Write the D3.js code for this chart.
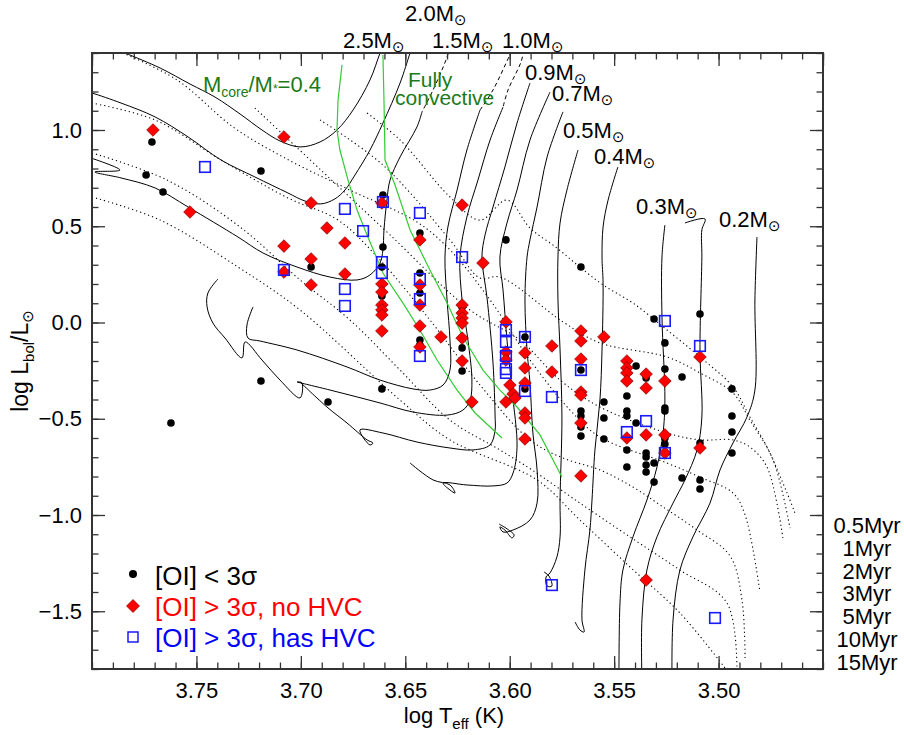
<!DOCTYPE html>
<html><head><meta charset="utf-8">
<script src="https://cdn.jsdelivr.net/npm/d3@7"></script>
<style>
body{margin:0;background:#fff}
svg text{font-family:"Liberation Sans",Arial,Helvetica,sans-serif}
</style>
</head><body>
<svg id="chart" width="904" height="735"></svg>
<script>
// Sources: [logTeff, logLbol/Lsun]
const lowSig = [[3.7713,0.938],[3.7741,0.766],[3.7660,0.678],[3.7191,0.787],[3.6951,0.288],[3.7622,-0.522],[3.7191,-0.304],[3.6870,-0.413],[3.6612,-0.345],[3.6607,0.662],[3.6607,0.392],[3.6612,0.288],[3.6612,0.138],[3.6430,0.465],[3.6430,0.257],[3.6430,0.153],[3.6430,-0.091],[3.6430,-0.117],[3.6228,0.081],[3.6228,-0.132],[3.6228,-0.252],[3.6018,0.429],[3.5927,-0.075],[3.5927,-0.345],[3.5659,0.288],[3.5659,-0.247],[3.5659,-0.460],[3.5659,-0.486],[3.5659,-0.543],[3.5659,-0.590],[3.5549,-0.413],[3.5549,-0.496],[3.5549,-0.605],[3.5439,-0.304],[3.5439,-0.382],[3.5439,-0.460],[3.5439,-0.486],[3.5439,-0.662],[3.5439,-0.751],[3.5395,-0.226],[3.5395,-0.522],[3.5347,-0.288],[3.5347,-0.678],[3.5347,-0.699],[3.5347,-0.740],[3.5347,-0.777],[3.5309,0.018],[3.5309,-0.730],[3.5309,-0.829],[3.5257,-0.106],[3.5257,-0.242],[3.5257,-0.444],[3.5257,-0.460],[3.5257,-0.600],[3.5257,-0.631],[3.5175,-0.283],[3.5175,-0.808],[3.5089,0.044],[3.5089,-0.626],[3.5089,-0.818],[3.5089,-0.865],[3.4936,-0.345],[3.4936,-0.486],[3.4936,-0.569],[3.4936,-0.678]];
const noHVC = [[3.7708,1.000],[3.7081,0.964],[3.7531,0.574],[3.6951,0.621],[3.6875,0.491],[3.7081,0.397],[3.6951,0.330],[3.6789,0.413],[3.6951,0.195],[3.6789,0.252],[3.7081,0.262],[3.6612,0.621],[3.6430,0.429],[3.6228,0.610],[3.6612,0.200],[3.6612,0.158],[3.6612,0.091],[3.6612,0.065],[3.6612,0.039],[3.6612,-0.044],[3.6430,0.195],[3.6430,0.091],[3.6430,-0.018],[3.6430,-0.127],[3.6329,-0.075],[3.6128,0.309],[3.6228,0.091],[3.6228,0.049],[3.6228,0.023],[3.6228,-0.003],[3.6228,-0.081],[3.6228,-0.200],[3.6181,-0.413],[3.6018,0.003],[3.6018,-0.153],[3.6018,-0.195],[3.5999,-0.325],[3.5984,-0.371],[3.5975,-0.392],[3.6018,-0.413],[3.5927,-0.158],[3.5927,-0.236],[3.5927,-0.314],[3.5927,-0.470],[3.5927,-0.496],[3.5927,-0.605],[3.5798,-0.122],[3.5798,-0.257],[3.5659,-0.044],[3.5659,-0.096],[3.5659,-0.190],[3.5659,-0.361],[3.5659,-0.377],[3.5659,-0.522],[3.5659,-0.797],[3.5549,-0.075],[3.5439,-0.200],[3.5439,-0.236],[3.5439,-0.262],[3.5439,-0.304],[3.5439,-0.600],[3.5347,-0.268],[3.5347,-0.340],[3.5347,-0.584],[3.5347,-1.338],[3.5257,-0.304],[3.5257,-0.584],[3.5257,-0.678],[3.5089,-0.179],[3.5089,-0.652]];
const hasHVC = [[3.7459,0.808],[3.7081,0.273],[3.6789,0.590],[3.6702,0.475],[3.6607,0.626],[3.6789,0.174],[3.6789,0.086],[3.6612,0.314],[3.6612,0.257],[3.6430,0.569],[3.6430,0.226],[3.6430,0.122],[3.6430,-0.174],[3.6228,0.340],[3.6018,-0.039],[3.6018,-0.101],[3.6018,-0.174],[3.6018,-0.242],[3.6018,-0.262],[3.5927,-0.075],[3.5927,-0.356],[3.5798,-0.387],[3.5798,-1.364],[3.5659,-0.247],[3.5439,-0.569],[3.5347,-0.512],[3.5257,0.008],[3.5257,-0.678],[3.5089,-0.122],[3.5017,-1.535]];

// Pre-main-sequence evolutionary tracks (early = initial segment drawn dashed)
const tracks = [
 {mass:2.5, early:[], main:[[3.7914,1.431],[3.7842,1.400],[3.7674,1.322],[3.7531,1.239],[3.7411,1.171],[3.7291,1.083],[3.7186,1.000],[3.7100,0.943],[3.7004,0.912],[3.6908,0.938],[3.6827,1.000],[3.6750,1.104],[3.6669,1.260],[3.6621,1.400],[3.6597,1.468]]},
 {mass:2.0, early:[], main:[[3.8057,1.208],[3.8000,1.192],[3.7861,1.140],[3.7698,1.068],[3.7540,0.964],[3.7382,0.844],[3.7220,0.756],[3.7062,0.673],[3.6980,0.631],[3.6904,0.616],[3.6837,0.642],[3.6789,0.688],[3.6741,0.766],[3.6669,0.896],[3.6607,1.036],[3.6525,1.244],[3.6477,1.400],[3.6463,1.442]]},
 {mass:1.5, early:[[3.6276,1.468],[3.6300,1.379],[3.6367,1.208],[3.6420,1.094]], main:[[3.6420,1.094],[3.6444,1.016],[3.6525,0.860],[3.6573,0.740],[3.6588,0.636],[3.6602,0.481],[3.6607,0.377],[3.6621,0.309],[3.6669,0.247],[3.6731,0.221],[3.6860,0.236],[3.7018,0.288],[3.7181,0.361],[3.7301,0.444],[3.7540,0.600],[3.7698,0.699],[3.7861,0.751],[3.7986,0.782],[3.7866,0.792],[3.8034,0.865]]},
 {mass:1.0, early:[[3.5975,1.442],[3.5999,1.390],[3.6080,1.208],[3.6142,1.104]], main:[[3.6142,1.104],[3.6205,0.896],[3.6252,0.688],[3.6296,0.496],[3.6310,0.340],[3.6300,0.117],[3.6286,-0.091],[3.6286,-0.247],[3.6319,-0.325],[3.6382,-0.351],[3.6463,-0.345],[3.6621,-0.299],[3.6779,-0.231],[3.7018,-0.143],[3.7196,-0.096],[3.7253,-0.081],[3.7258,-0.013],[3.7229,0.081]]},
 {mass:0.9, early:[[3.5932,1.416],[3.5946,1.353],[3.6008,1.208],[3.6032,1.119]], main:[[3.6032,1.119],[3.6094,0.948],[3.6152,0.740],[3.6205,0.548],[3.6238,0.340],[3.6228,0.117],[3.6200,-0.091],[3.6181,-0.299],[3.6190,-0.403],[3.6224,-0.455],[3.6300,-0.481],[3.6463,-0.465],[3.6621,-0.418],[3.6860,-0.351],[3.7018,-0.309],[3.6995,-0.314],[3.7004,-0.392],[3.7100,-0.299],[3.7186,-0.195],[3.7267,-0.101],[3.7282,-0.184],[3.7363,-0.081],[3.7421,-0.003],[3.7449,0.081],[3.7445,0.153],[3.7397,0.226]]},
 {mass:0.8, early:[], main:[[3.5903,1.244],[3.5965,1.036],[3.6023,0.808],[3.6080,0.600],[3.6118,0.455],[3.6133,0.340],[3.6109,0.132],[3.6080,-0.210],[3.6070,-0.491],[3.6070,-0.558],[3.6094,-0.636],[3.6176,-0.662],[3.6286,-0.652],[3.6444,-0.621],[3.6607,-0.574],[3.6717,-0.558],[3.6669,-0.636],[3.6655,-0.626],[3.6683,-0.610],[3.6779,-0.522],[3.6875,-0.439],[3.7004,-0.309]]},
 {mass:0.7, early:[], main:[[3.5807,1.197],[3.5903,0.948],[3.5965,0.688],[3.6013,0.517],[3.6047,0.340],[3.6032,0.169],[3.6013,-0.091],[3.5989,-0.351],[3.5965,-0.647],[3.5984,-0.782],[3.6013,-0.834],[3.6080,-0.849],[3.6205,-0.844],[3.6319,-0.834],[3.6286,-0.870],[3.6262,-0.886],[3.6286,-0.844],[3.6367,-0.818],[3.6477,-0.730]]},
 {mass:0.6, early:[], main:[[3.5745,1.094],[3.5821,0.860],[3.5869,0.600],[3.5903,0.429],[3.5917,0.340],[3.5927,0.117],[3.5917,-0.143],[3.5903,-0.314],[3.5889,-0.574],[3.5869,-0.766],[3.5869,-0.938],[3.5903,-1.026],[3.5984,-1.078],[3.6032,-1.088],[3.6047,-1.062],[3.6023,-1.078],[3.5989,-1.119],[3.5979,-1.104],[3.6018,-1.068],[3.6051,-1.047]]},
 {mass:0.5, early:[], main:[[3.5673,0.896],[3.5726,0.688],[3.5759,0.517],[3.5769,0.340],[3.5769,0.117],[3.5759,-0.143],[3.5750,-0.491],[3.5759,-0.922],[3.5759,-1.114],[3.5774,-1.218],[3.5807,-1.301],[3.5826,-1.322],[3.5821,-1.369],[3.5798,-1.369],[3.5812,-1.317],[3.5836,-1.296]]},
 {mass:0.4, early:[], main:[[3.5482,0.808],[3.5529,0.636],[3.5553,0.496],[3.5558,0.340],[3.5553,0.205],[3.5558,-0.143],[3.5568,-0.403],[3.5592,-0.662],[3.5606,-0.922],[3.5616,-1.078],[3.5640,-1.286],[3.5654,-1.545],[3.5644,-1.608],[3.5664,-1.597],[3.5687,-1.556]]},
 {mass:0.3, early:[], main:[[3.5257,0.506],[3.5271,0.340],[3.5271,0.029],[3.5257,-0.403],[3.5266,-0.574],[3.5295,-0.751],[3.5343,-0.922],[3.5410,-1.114],[3.5458,-1.286],[3.5472,-1.457],[3.5477,-1.857]]},
 {mass:0.25, early:[], main:[[3.5161,0.517],[3.5065,0.538],[3.5080,0.481],[3.5080,0.340],[3.5089,-0.143],[3.5080,-0.491],[3.5103,-0.662],[3.5161,-0.818],[3.5218,-0.938],[3.5295,-1.114],[3.5343,-1.286],[3.5367,-1.545],[3.5367,-1.857]]},
 {mass:0.2, early:[], main:[[3.4816,0.444],[3.4826,0.117],[3.4826,-0.351],[3.4864,-0.491],[3.4931,-0.626],[3.4993,-0.766],[3.5041,-0.938],[3.5123,-1.114],[3.5185,-1.286],[3.5218,-1.545],[3.5223,-1.857]]}
];

// Isochrones
const isochrones = [
 {age:"0.5Myr", pts:[[3.6683,1.088],[3.6525,0.948],[3.6286,0.652],[3.6142,0.532],[3.6013,0.636],[3.5903,0.491],[3.5774,0.387],[3.5664,0.288],[3.5553,0.195],[3.5410,0.101],[3.5247,-0.039],[3.5089,-0.179],[3.4931,-0.335],[3.4850,-0.491],[3.4768,-0.647],[3.4672,-0.886],[3.4634,-0.990]]},
 {age:"1Myr", pts:[[3.6908,1.052],[3.6607,0.818],[3.6286,0.429],[3.6142,0.231],[3.6047,0.236],[3.5745,0.003],[3.5568,-0.106],[3.5247,-0.179],[3.5089,-0.262],[3.4931,-0.366],[3.4850,-0.507],[3.4739,-0.714],[3.4658,-1.068]]},
 {age:"2Myr", pts:[[3.7220,1.114],[3.6904,0.792],[3.6573,0.455],[3.6190,0.065],[3.5951,-0.091],[3.5759,-0.299],[3.5568,-0.439],[3.5247,-0.574],[3.5089,-0.610],[3.4931,-0.610],[3.4850,-0.647],[3.4768,-0.751],[3.4692,-1.119]]},
 {age:"3Myr", pts:[[3.7852,1.400],[3.7593,1.260],[3.7325,1.016],[3.7086,0.860],[3.6765,0.688],[3.6444,0.522],[3.6286,0.377],[3.6094,0.117],[3.5903,-0.195],[3.5711,-0.455],[3.5568,-0.595],[3.5247,-0.730],[3.5089,-0.803],[3.4931,-0.886],[3.4873,-1.000],[3.4802,-1.400]]},
 {age:"5Myr", pts:[[3.8000,1.140],[3.7698,1.052],[3.7382,0.844],[3.7062,0.647],[3.6822,0.532],[3.6621,0.325],[3.6382,0.013],[3.6142,-0.325],[3.5903,-0.610],[3.5745,-0.704],[3.5568,-0.766],[3.5410,-0.855],[3.5280,-0.948],[3.5103,-1.078],[3.4945,-1.213],[3.4888,-1.442],[3.4873,-1.743]]},
 {age:"10Myr", pts:[[3.8000,0.881],[3.7641,0.740],[3.7291,0.496],[3.7004,0.221],[3.6765,0.013],[3.6525,-0.247],[3.6286,-0.507],[3.6047,-0.662],[3.5893,-0.766],[3.5664,-0.938],[3.5424,-1.114],[3.5185,-1.286],[3.4960,-1.457],[3.4912,-1.847]]},
 {age:"15Myr", pts:[[3.8000,0.652],[3.7674,0.532],[3.7301,0.288],[3.7004,0.065],[3.6525,-0.403],[3.6286,-0.610],[3.5869,-0.818],[3.5664,-1.026],[3.5424,-1.270],[3.5185,-1.509],[3.4969,-1.795]]}
];

// Boundary curves
const coreLine = [[3.6803,1.338],[3.6822,1.156],[3.6827,1.000],[3.6813,0.896],[3.6774,0.740],[3.6731,0.584],[3.6693,0.481],[3.6607,0.257],[3.6511,0.101],[3.6430,-0.039],[3.6348,-0.195],[3.6252,-0.351],[3.6166,-0.470],[3.6037,-0.600]];
const convLine = [[3.6607,1.390],[3.6602,1.156],[3.6597,0.844],[3.6549,0.714],[3.6477,0.481],[3.6382,0.273],[3.6300,0.101],[3.6224,-0.075],[3.6128,-0.247],[3.6047,-0.351],[3.5965,-0.439],[3.5855,-0.584],[3.5750,-0.803]];

// Track label anchors [logTeff, logL] and texts
const trackLabels = [
 {text:"2.5", at:[3.6798,1.426]},{text:"2.0", at:[3.6501,1.566]},{text:"1.5", at:[3.6372,1.426]},
 {text:"1.0", at:[3.6037,1.426]},{text:"0.9", at:[3.5927,1.260]},{text:"0.7", at:[3.5798,1.151]},
 {text:"0.5", at:[3.5745,0.958]},{text:"0.4", at:[3.5597,0.823]},{text:"0.3", at:[3.5395,0.563]},
 {text:"0.2", at:[3.4998,0.496]}
];
const xTickValues = [3.50,3.55,3.60,3.65,3.70,3.75];
const yTickValues = [-1.5,-1.0,-0.5,0.0,0.5,1.0];

const svg = d3.select("#chart");
const box = {l:92, r:823, t:53, b:669};
const x = d3.scaleLinear().domain([3.80,3.45]).range([box.l,box.r]);
const y = d3.scaleLinear().domain([-1.8,1.4]).range([box.b,box.t]);

svg.append("defs").append("clipPath").attr("id","plotclip")
  .append("rect").attr("x",box.l).attr("y",box.t).attr("width",box.r-box.l).attr("height",box.b-box.t);

const line = d3.line().x(d=>x(d[0])).y(d=>y(d[1])).curve(d3.curveCatmullRom.alpha(0.5));
const curves = svg.append("g").attr("clip-path","url(#plotclip)");

// isochrones (dotted)
curves.selectAll("path.iso").data(isochrones).join("path").attr("class","iso")
  .attr("d",d=>line(d.pts)).attr("fill","none").attr("stroke","#000")
  .attr("stroke-width",1.1).attr("stroke-dasharray","1.2,3");

// tracks
curves.selectAll("path.trk").data(tracks).join("path").attr("class","trk")
  .attr("d",d=>line(d.main)).attr("fill","none").attr("stroke","#000").attr("stroke-width",1);
curves.selectAll("path.trk0").data(tracks.filter(t=>t.early.length)).join("path").attr("class","trk0")
  .attr("d",d=>line(d.early)).attr("fill","none").attr("stroke","#000").attr("stroke-width",1)
  .attr("stroke-dasharray","4,3");

// boundaries
[coreLine, convLine].forEach(c=>{
  curves.append("path").attr("d",d3.line().x(d=>x(d[0])).y(d=>y(d[1]))(c))
    .attr("fill","none").attr("stroke","#33cc33").attr("stroke-width",1.2);
});

// symbols
const pts = svg.append("g");
pts.selectAll("circle").data(lowSig).join("circle")
  .attr("cx",d=>x(d[0])).attr("cy",d=>y(d[1])).attr("r",3.8).attr("fill","#000");
const diamond = s => `M0,${-s}L${s},0L0,${s}L${-s},0Z`;
pts.selectAll("path.dm").data(noHVC).join("path").attr("class","dm")
  .attr("transform",d=>`translate(${x(d[0])},${y(d[1])})`).attr("d",diamond(6.3))
  .attr("fill","#ff0000").attr("stroke","#7a0000").attr("stroke-width",0.7);
pts.selectAll("rect.sq").data(hasHVC).join("rect").attr("class","sq")
  .attr("x",d=>x(d[0])-5.3).attr("y",d=>y(d[1])-5.3).attr("width",10.6).attr("height",10.6)
  .attr("fill","none").attr("stroke","#1a1aff").attr("stroke-width",1.6);

// axes: inward ticks on all four sides
function styleAxis(g){ g.select(".domain").remove(); g.selectAll("line").attr("stroke","#333").attr("stroke-width",1.3);
  g.selectAll("text").attr("font-size",22).attr("fill","#000").attr("font-family","Liberation Sans, Arial, sans-serif"); }
const xMinor = d3.range(0,36).map(i=>+(3.45+i*0.01).toFixed(2));
const yMinor = d3.range(0,33).map(i=>+(-1.8+i*0.1).toFixed(1));
const xMajor = [3.45,3.50,3.55,3.60,3.65,3.70,3.75,3.80];
svg.append("g").attr("transform",`translate(0,${box.b})`)
  .call(d3.axisBottom(x).tickValues(xMinor).tickSize(-6.5).tickFormat("")).call(styleAxis);
svg.append("g").attr("transform",`translate(0,${box.b})`)
  .call(d3.axisBottom(x).tickValues(xTickValues).tickSize(-13).tickPadding(13).tickFormat(d3.format(".2f"))).call(styleAxis);
svg.append("g").attr("transform",`translate(0,${box.t})`)
  .call(d3.axisTop(x).tickValues(xMinor).tickSize(-6.5).tickFormat("")).call(styleAxis);
svg.append("g").attr("transform",`translate(0,${box.t})`)
  .call(d3.axisTop(x).tickValues(xMajor).tickSize(-13).tickFormat("")).call(styleAxis);
svg.append("g").attr("transform",`translate(${box.l},0)`)
  .call(d3.axisLeft(y).tickValues(yMinor).tickSize(-6.5).tickFormat("")).call(styleAxis);
svg.append("g").attr("transform",`translate(${box.l},0)`)
  .call(d3.axisLeft(y).tickValues(yTickValues).tickSize(-13).tickPadding(10).tickFormat(d3.format(".1f"))).call(styleAxis);
svg.append("g").attr("transform",`translate(${box.r},0)`)
  .call(d3.axisRight(y).tickValues(yMinor).tickSize(-6.5).tickFormat("")).call(styleAxis);
svg.append("g").attr("transform",`translate(${box.r},0)`)
  .call(d3.axisRight(y).tickValues(yTickValues).tickSize(-13).tickFormat("")).call(styleAxis);

svg.append("rect").attr("x",box.l).attr("y",box.t).attr("width",box.r-box.l).attr("height",box.b-box.t)
  .attr("fill","none").attr("stroke","#333").attr("stroke-width",2);

// axis titles
const xt = svg.append("text").attr("x",454).attr("y",723).attr("text-anchor","middle").attr("font-size",22);
xt.append("tspan").text("log T");
xt.append("tspan").attr("font-size",15).attr("dy",6).text("eff");
xt.append("tspan").attr("dy",-6).text(" (K)");
const yt = svg.append("text").attr("transform","translate(28,361) rotate(-90)").attr("text-anchor","middle").attr("font-size",23);
yt.append("tspan").text("log L");
yt.append("tspan").attr("font-size",15).attr("dy",6).text("bol");
yt.append("tspan").attr("dy",-6).text("/L");
yt.append("tspan").attr("font-size",15).attr("dy",5).attr("font-family","DejaVu Sans").text("⊙");

// mass labels
trackLabels.forEach(l=>{
  const t = svg.append("text").attr("x",x(l.at[0])).attr("y",y(l.at[1])).attr("font-size",22);
  t.append("tspan").text(l.text+"M");
  t.append("tspan").attr("font-size",15).attr("dy",4).attr("font-family","DejaVu Sans").text("⊙");
});

// isochrone age labels beside the right axis
isochrones.forEach((iso,i)=>{
  svg.append("text").attr("x",867).attr("y",533+i*22.8).attr("text-anchor","middle")
    .attr("font-size",22).text(iso.age);
});

// boundary annotations
const green = "#1b7a1b";
const mc = svg.append("text").attr("x",x(3.7469)).attr("y",y(1.197)).attr("font-size",22).attr("fill",green);
mc.append("tspan").text("M");
mc.append("tspan").attr("font-size",14).attr("dy",5).text("core");
mc.append("tspan").attr("dy",-5).text("/M");
mc.append("tspan").attr("font-size",12).attr("dy",1).text("*");
mc.append("tspan").attr("dy",-1).text("=0.4");
svg.append("text").attr("x",x(3.6487)).attr("y",y(1.223)).attr("font-size",21).attr("fill",green).text("Fully");
svg.append("text").attr("x",x(3.6549)).attr("y",y(1.130)).attr("font-size",21).attr("fill",green).text("convective");

// legend
const lg = svg.append("g");
lg.append("circle").attr("cx",133).attr("cy",574).attr("r",4).attr("fill","#000");
lg.append("path").attr("transform","translate(133,606)").attr("d",diamond(6.5)).attr("fill","#ff0000").attr("stroke","#7a0000").attr("stroke-width",0.7);
lg.append("rect").attr("x",128).attr("y",632).attr("width",10).attr("height",10).attr("fill","none").attr("stroke","#1a1aff").attr("stroke-width",1.5);
lg.append("text").attr("x",155).attr("y",585).attr("font-size",26).attr("fill","#000").text("[OI] < 3σ");
lg.append("text").attr("x",155).attr("y",616).attr("font-size",26).attr("fill","#ff0000").text("[OI] > 3σ, no HVC");
lg.append("text").attr("x",155).attr("y",647).attr("font-size",26).attr("fill","#0000ff").text("[OI] > 3σ, has HVC");
</script>
</body></html>
